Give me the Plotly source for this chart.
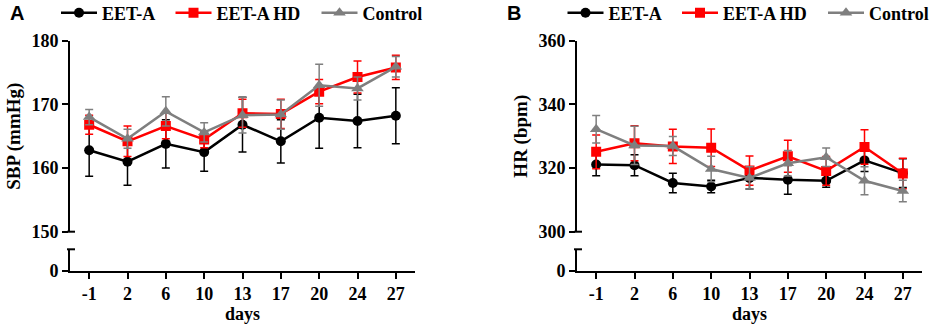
import plotly.graph_objects as go

days = ["-1", "2", "6", "10", "13", "17", "20", "24", "27"]

# Panel A: SBP (mmHg)
sbp_eet = [162.8, 161.0, 163.8, 162.5, 166.8, 164.2, 167.9, 167.4, 168.2]
sbp_eet_err = [4.1, 3.7, 3.8, 3.0, 4.3, 3.4, 4.8, 4.2, 4.4]
sbp_hd = [166.8, 164.2, 166.6, 164.5, 168.6, 168.5, 172.0, 174.3, 175.8]
sbp_hd_err = [1.5, 2.4, 2.0, 1.3, 2.2, 2.3, 1.9, 2.5, 1.9]
sbp_ctl = [168.0, 164.6, 168.9, 165.6, 168.3, 168.4, 173.0, 172.5, 175.9]
sbp_ctl_err = [1.2, 1.5, 2.3, 1.5, 2.8, 2.3, 3.3, 1.8, 1.6]

# Panel B: HR (bpm)
hr_eet = [321.1, 320.9, 315.3, 314.2, 316.9, 316.3, 316.0, 322.4, 318.4]
hr_eet_err = [3.5, 3.3, 3.1, 2.0, 3.5, 4.5, 2.0, 3.5, 4.5]
hr_hd = [325.1, 327.8, 326.8, 326.4, 319.2, 323.7, 319.1, 326.6, 318.3]
hr_hd_err = [5.3, 5.5, 5.4, 5.9, 4.6, 5.0, 4.5, 5.4, 4.8]
hr_ctl = [332.2, 327.1, 326.9, 319.7, 316.9, 321.5, 323.4, 316.0, 312.8]
hr_ctl_err = [4.3, 6.0, 3.0, 4.0, 3.5, 4.0, 2.9, 4.4, 3.4]

names = ["EET-A", "EET-A HD", "Control"]
colors = ["#000000", "#ff0000", "#7f7f7f"]
symbols = ["circle", "square", "triangle-up"]
msizes = [10, 10, 11]

W, H = 941, 326
def fx(px):
    return px / W
def fy(py):
    return 1 - py / H

FONT = "Liberation Serif"
tickfont = dict(family=FONT, size=18, color="black", weight="bold")
legfont = dict(family=FONT, size=18, color="black", weight="bold")

# legend symbol centres (px) for each panel
legA_centres = [76, 190.5, 336.5]
legB_centres = [582.5, 697, 843]

fig = go.Figure()

panelA = [(sbp_eet, sbp_eet_err), (sbp_hd, sbp_hd_err), (sbp_ctl, sbp_ctl_err)]
panelB = [(hr_eet, hr_eet_err), (hr_hd, hr_hd_err), (hr_ctl, hr_ctl_err)]

legend_layout = {}
k = 1
for panel, xa, ya, centres in ((panelA, "x", "y", legA_centres), (panelB, "x2", "y3", legB_centres)):
    for (vals, errs), nm, c, s, ms, cx in zip(panel, names, colors, symbols, msizes, centres):
        lname = "legend" if k == 1 else f"legend{k}"
        fig.add_trace(go.Scatter(
            x=days, y=vals, name=nm, mode="lines+markers",
            line=dict(color=c, width=2.5),
            marker=dict(color=c, symbol=s, size=ms),
            error_y=dict(type="data", array=errs, color=c, thickness=1.5, width=4),
            xaxis=xa, yaxis=ya, legend=lname))
        legend_layout[lname] = dict(orientation="h", x=fx(cx - 20), y=fy(13),
                                    xanchor="left", yanchor="middle", font=legfont,
                                    bgcolor="rgba(0,0,0,0)", itemwidth=36)
        k += 1

# empty traces so the lower (broken) axis segments form real subplots
fig.add_trace(go.Scatter(x=[], y=[], xaxis="x", yaxis="y2", showlegend=False, hoverinfo="skip"))
fig.add_trace(go.Scatter(x=[], y=[], xaxis="x2", yaxis="y4", showlegend=False, hoverinfo="skip"))

# geometry (pixels)
ax_left_A, ax_right_A = 70, 415
ax_left_B, ax_right_B = 577, 922
y_top, y_bot_upper = 40.7, 231.7
y_low_top, y_axis = 249.3, 270.7

common_x = dict(type="category", categoryorder="array", categoryarray=days,
                range=[-0.5, 8.5], showline=True, linecolor="black", linewidth=2,
                ticks="outside", ticklen=6, tickwidth=2, tickcolor="black",
                tickfont=tickfont, showgrid=False, zeroline=False, automargin=False,
                title=dict(text="days", font=dict(family=FONT, size=18, color="black", weight="bold"),
                           standoff=2))
common_y = dict(showline=True, linecolor="black", linewidth=2, ticks="outside",
                ticklen=6, tickwidth=2, tickcolor="black", tickfont=tickfont,
                showgrid=False, zeroline=False, automargin=False)

fig.update_layout(
    width=W, height=H, margin=dict(l=0, r=0, t=0, b=0, autoexpand=False),
    plot_bgcolor="white", paper_bgcolor="white",
    showlegend=True,
    xaxis=dict(domain=[fx(ax_left_A), fx(ax_right_A)], anchor="y2", **common_x),
    xaxis2=dict(domain=[fx(ax_left_B), fx(ax_right_B)], anchor="y4", **common_x),
    yaxis=dict(domain=[fy(y_bot_upper), fy(y_top)], anchor="x", range=[150, 180],
               tickvals=[150, 160, 170, 180],
               title=dict(text="SBP (mmHg)", font=dict(family=FONT, size=19, color="black", weight="bold"),
                          standoff=6),
               **common_y),
    yaxis2=dict(domain=[fy(y_axis), fy(y_low_top)], anchor="x", range=[0, 10],
                tickvals=[0], **common_y),
    yaxis3=dict(domain=[fy(y_bot_upper), fy(y_top)], anchor="x2", range=[300, 360],
                tickvals=[300, 320, 340, 360],
                title=dict(text="HR (bpm)", font=dict(family=FONT, size=19, color="black", weight="bold"),
                           standoff=6),
                **common_y),
    yaxis4=dict(domain=[fy(y_axis), fy(y_low_top)], anchor="x2", range=[0, 10],
                tickvals=[0], **common_y),
    **legend_layout,
)

# axis-break caps
shapes = []
for axl in (ax_left_A, ax_left_B):
    for py in (y_bot_upper, y_low_top):
        shapes.append(dict(type="line", xref="paper", yref="paper",
                           x0=fx(axl - 3), x1=fx(axl + 5), y0=fy(py), y1=fy(py),
                           line=dict(color="black", width=2)))
fig.update_layout(shapes=shapes)

annotations = [
    dict(text="A", x=fx(8), y=fy(13), xref="paper", yref="paper", showarrow=False,
         xanchor="left", yanchor="middle", font=dict(family="Liberation Sans", size=20, color="black", weight="bold")),
    dict(text="B", x=fx(505), y=fy(13), xref="paper", yref="paper", showarrow=False,
         xanchor="left", yanchor="middle", font=dict(family="Liberation Sans", size=20, color="black", weight="bold")),
]
# significance asterisks next to the last points of panel A
for val, ys in ((sbp_hd[-1], -5), (sbp_ctl[-1], -24), (sbp_eet[-1], 9)):
    annotations.append(dict(text="*", x="27", y=val, xref="x", yref="y", showarrow=False,
                            xshift=11, yshift=ys,
                            font=dict(family="Liberation Sans", size=24, color="black")))
fig.update_layout(annotations=annotations)

fig.write_html("out.html", config={"displayModeBar": False},
               post_script="document.body.style.margin='0px';")
